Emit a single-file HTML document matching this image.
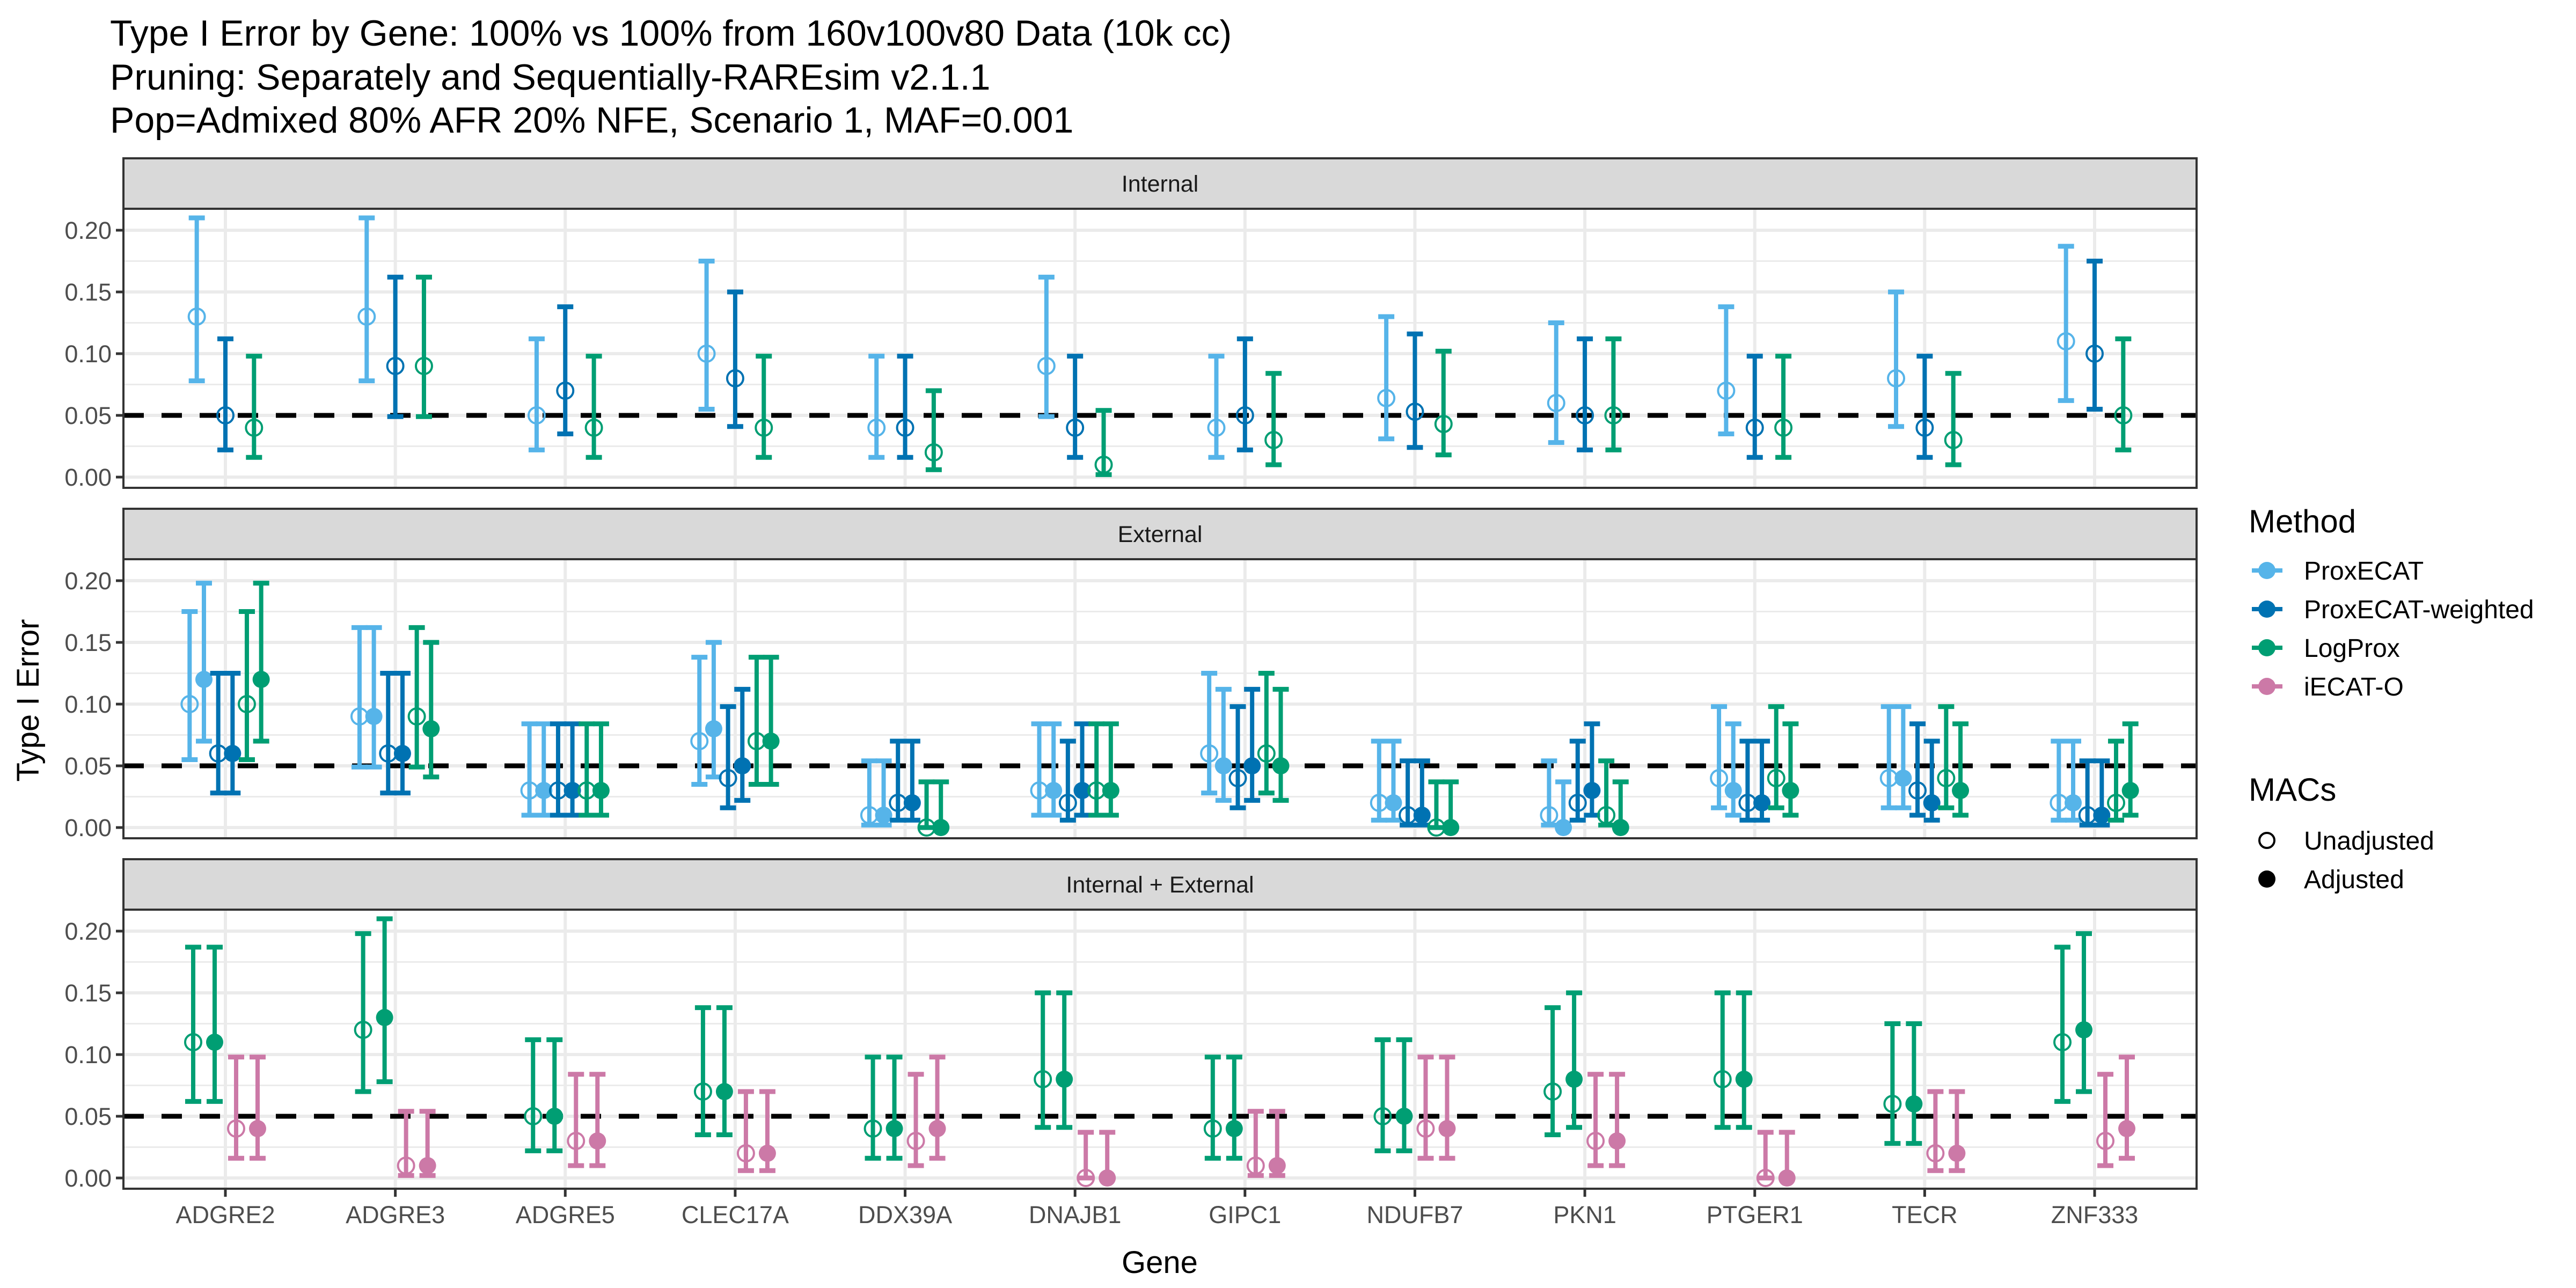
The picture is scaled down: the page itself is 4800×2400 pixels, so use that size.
<!DOCTYPE html>
<html><head><meta charset="utf-8">
<style>
html,body{margin:0;padding:0;background:#fff;}
svg{display:block;font-family:"Liberation Sans",Arial,sans-serif;}
</style></head>
<body>
<svg id="chart" xmlns="http://www.w3.org/2000/svg" width="4800" height="2400" viewBox="0 0 4800 2400">
<rect x="0" y="0" width="4800" height="2400" fill="#fff"/>
<g font-size="68" fill="#000">
<text x="205" y="85">Type I Error by Gene: 100% vs 100% from 160v100v80 Data (10k cc)</text>
<text x="205" y="167">Pruning: Separately and Sequentially-RAREsim v2.1.1</text>
<text x="205" y="247">Pop=Admixed 80% AFR 20% NFE, Scenario 1, MAF=0.001</text>
</g>
<g id="panels"></g>
<text x="2161" y="2372" font-size="58" text-anchor="middle">Gene</text>
<text x="72" y="1305" font-size="58" text-anchor="middle" transform="rotate(-90 72 1305)">Type I Error</text>
<g id="legend"></g>
</svg>
<script>
const genes = ["ADGRE2","ADGRE3","ADGRE5","CLEC17A","DDX39A","DNAJB1","GIPC1","NDUFB7","PKN1","PTGER1","TECR","ZNF333"];
const yTicks = [0,0.05,0.10,0.15,0.20];
const yTickLabels = ["0.00","0.05","0.10","0.15","0.20"];
const panelTitles = ["Internal","External","Internal + External"];
const methodNames = ["ProxECAT","ProxECAT-weighted","LogProx","iECAT-O"];
const macNames = ["Unadjusted","Adjusted"];
const refLine = 0.05;

// Panel 1: Internal
const intPEU = [.13,.13,.05,.10,.04,.09,.04,.064,.06,.07,.08,.11];
const intPEUlo = [.078,.078,.022,.055,.016,.049,.016,.031,.028,.035,.041,.062];
const intPEUhi = [.21,.21,.112,.175,.098,.162,.098,.13,.125,.138,.15,.187];
const intPWU = [.05,.09,.07,.08,.04,.04,.05,.053,.05,.04,.04,.10];
const intPWUlo = [.022,.049,.035,.041,.016,.016,.022,.024,.022,.016,.016,.055];
const intPWUhi = [.112,.162,.138,.15,.098,.098,.112,.116,.112,.098,.098,.175];
const intLPU = [.04,.09,.04,.04,.02,.01,.03,.043,.05,.04,.03,.05];
const intLPUlo = [.016,.049,.016,.016,.006,.002,.01,.018,.022,.016,.01,.022];
const intLPUhi = [.098,.162,.098,.098,.07,.054,.084,.102,.112,.098,.084,.112];

// Panel 2: External
const extPEU = [.10,.09,.03,.07,.01,.03,.06,.02,.01,.04,.04,.02];
const extPEUlo = [.055,.049,.01,.035,.002,.01,.028,.006,.002,.016,.016,.006];
const extPEUhi = [.175,.162,.084,.138,.054,.084,.125,.07,.054,.098,.098,.07];
const extPEA = [.12,.09,.03,.08,.01,.03,.05,.02,0,.03,.04,.02];
const extPEAlo = [.07,.049,.01,.041,.002,.01,.022,.006,0,.01,.016,.006];
const extPEAhi = [.198,.162,.084,.15,.054,.084,.112,.07,.037,.084,.098,.07];
const extPWU = [.06,.06,.03,.04,.02,.02,.04,.01,.02,.02,.03,.01];
const extPWUlo = [.028,.028,.01,.016,.006,.006,.016,.002,.006,.006,.01,.002];
const extPWUhi = [.125,.125,.084,.098,.07,.07,.098,.054,.07,.07,.084,.054];
const extPWA = [.06,.06,.03,.05,.02,.03,.05,.01,.03,.02,.02,.01];
const extPWAlo = [.028,.028,.01,.022,.006,.01,.022,.002,.01,.006,.006,.002];
const extPWAhi = [.125,.125,.084,.112,.07,.084,.112,.054,.084,.07,.07,.054];
const extLPU = [.10,.09,.03,.07,0,.03,.06,0,.01,.04,.04,.02];
const extLPUlo = [.055,.049,.01,.035,0,.01,.028,0,.002,.016,.016,.006];
const extLPUhi = [.175,.162,.084,.138,.037,.084,.125,.037,.054,.098,.098,.07];
const extLPA = [.12,.08,.03,.07,0,.03,.05,0,0,.03,.03,.03];
const extLPAlo = [.07,.041,.01,.035,0,.01,.022,0,0,.01,.01,.01];
const extLPAhi = [.198,.15,.084,.138,.037,.084,.112,.037,.037,.084,.084,.084];

// Panel 3: Internal + External
const bothLPU = [.11,.12,.05,.07,.04,.08,.04,.05,.07,.08,.06,.11];
const bothLPUlo = [.062,.07,.022,.035,.016,.041,.016,.022,.035,.041,.028,.062];
const bothLPUhi = [.187,.198,.112,.138,.098,.15,.098,.112,.138,.15,.125,.187];
const bothLPA = [.11,.13,.05,.07,.04,.08,.04,.05,.08,.08,.06,.12];
const bothLPAlo = [.062,.078,.022,.035,.016,.041,.016,.022,.041,.041,.028,.07];
const bothLPAhi = [.187,.21,.112,.138,.098,.15,.098,.112,.15,.15,.125,.198];
const bothIEU = [.04,.01,.03,.02,.03,0,.01,.04,.03,0,.02,.03];
const bothIEUlo = [.016,.002,.01,.006,.01,0,.002,.016,.01,0,.006,.01];
const bothIEUhi = [.098,.054,.084,.07,.084,.037,.054,.098,.084,.037,.07,.084];
const bothIEA = [.04,.01,.03,.02,.04,0,.01,.04,.03,0,.02,.04];
const bothIEAlo = [.016,.002,.01,.006,.016,0,.002,.016,.01,0,.006,.016];
const bothIEAhi = [.098,.054,.084,.07,.098,.037,.054,.098,.084,.037,.07,.098];

const colors = ["#56B4E9","#0072B2","#009E73","#CC79A7"];
const NS = "http://www.w3.org/2000/svg";
function el(tag, attrs, parent){const e=document.createElementNS(NS,tag);for(const k in attrs)e.setAttribute(k,attrs[k]);parent.appendChild(e);return e;}

const panelsSeries = [
 [[0,0,intPEU,intPEUlo,intPEUhi],[1,0,intPWU,intPWUlo,intPWUhi],[2,0,intLPU,intLPUlo,intLPUhi]],
 [[0,0,extPEU,extPEUlo,extPEUhi],[0,1,extPEA,extPEAlo,extPEAhi],[1,0,extPWU,extPWUlo,extPWUhi],[1,1,extPWA,extPWAlo,extPWAhi],[2,0,extLPU,extLPUlo,extLPUhi],[2,1,extLPA,extLPAlo,extLPAhi]],
 [[2,0,bothLPU,bothLPUlo,bothLPUhi],[2,1,bothLPA,bothLPAlo,bothLPAhi],[3,0,bothIEU,bothIEUlo,bothIEUhi],[3,1,bothIEA,bothIEAlo,bothIEAhi]]
];

const PL=230, PR=4093, PW=PR-PL;
const unit = PW/(genes.length-1+1.2);
function xScale(i){return PL+unit*(0.6+i);}
const stripH=94, plotH=520, pitch=653, top0=295;
const pxPer = 115/0.05;
const dodgeW = 160;

const root=document.getElementById('panels');
panelTitles.forEach((title,p)=>{
  const sTop=top0+p*pitch, pTop=sTop+stripH, pBot=pTop+plotH;
  const y0=pBot-20;
  const yS=v=>y0-v*pxPer;
  const g=el('g',{},root);
  
  
  const strip=el('rect',{x:PL,y:sTop,width:PW,height:stripH,fill:'#D9D9D9',stroke:'#333','stroke-width':4},g);
  
  
  const st=el('text',{x:PL+PW/2,y:sTop+stripH/2+15,'font-size':43,'text-anchor':'middle',fill:'#1a1a1a'},g);
  st.textContent=title;
  
  
  el('rect',{x:PL,y:pTop,width:PW,height:plotH,fill:'#fff'},g);
  for(let k=0;k<yTicks.length-1;k++){const v=(yTicks[k]+yTicks[k+1])/2;el('line',{x1:PL,x2:PR,y1:yS(v),y2:yS(v),stroke:'#EBEBEB','stroke-width':3},g);}
  yTicks.forEach((v,k)=>{
    el('line',{x1:PL,x2:PR,y1:yS(v),y2:yS(v),stroke:'#EBEBEB','stroke-width':6},g);
    el('line',{x1:PL-14,x2:PL,y1:yS(v),y2:yS(v),stroke:'#333','stroke-width':5},g);
    const t=el('text',{x:PL-22,y:yS(v)+16,'font-size':45,'text-anchor':'end',fill:'#4D4D4D'},g);
    t.textContent=yTickLabels[k];
    
    
  });
  genes.forEach((gn,i)=>{el('line',{x1:xScale(i),x2:xScale(i),y1:pTop,y2:pBot,stroke:'#EBEBEB','stroke-width':6},g);});
  const ref=el('line',{x1:PL,x2:PR,y1:yS(refLine),y2:yS(refLine),stroke:'#000','stroke-width':9,'stroke-dasharray':'38 33'},g);
  
  
  const series=panelsSeries[p], n=series.length, slot=dodgeW/n;
  series.forEach((s,si)=>{
    const [m,mac,vals,lo,hi]=s;
    const off=-dodgeW/2+slot*(si+0.5);
    const sg=el('g',{},g);
    
    
    vals.forEach((v,i)=>{
      const x=xScale(i)+off, c=colors[m];
      el('line',{x1:x,x2:x,y1:yS(lo[i]),y2:yS(hi[i]),stroke:c,'stroke-width':8},sg);
      el('line',{x1:x-15,x2:x+15,y1:yS(lo[i]),y2:yS(lo[i]),stroke:c,'stroke-width':9},sg);
      el('line',{x1:x-15,x2:x+15,y1:yS(hi[i]),y2:yS(hi[i]),stroke:c,'stroke-width':9},sg);
      const pt=el('circle',{cx:x,cy:yS(v),r:mac?16:15,fill:mac?c:'none',stroke:c,'stroke-width':mac?0:4},sg);
      
      
    });
  });
  el('rect',{x:PL,y:pTop,width:PW,height:plotH,fill:'none',stroke:'#333','stroke-width':4},g);
  if(p===panelTitles.length-1){
    genes.forEach((gn,i)=>{
      el('line',{x1:xScale(i),x2:xScale(i),y1:pBot,y2:pBot+15,stroke:'#333','stroke-width':5},g);
      const t=el('text',{x:xScale(i),y:pBot+64,'font-size':45,'text-anchor':'middle',fill:'#4D4D4D'},g);
      t.textContent=gn;
      
      
    });
  }
});

const lg=document.getElementById('legend');
const lt=el('text',{x:4190,y:992,'font-size':60},lg);lt.textContent='Method';


methodNames.forEach((nm,k)=>{
  const y=1063+k*72;
  const e=el('g',{},lg);
  
  
  el('line',{x1:4196,x2:4253,y1:y,y2:y,stroke:colors[k],'stroke-width':8},e);
  el('circle',{cx:4224,cy:y,r:16,fill:colors[k]},e);
  const t=el('text',{x:4293,y:y+17,'font-size':48},e);t.textContent=nm;
});
const mt=el('text',{x:4190,y:1492,'font-size':60},lg);mt.textContent='MACs';


macNames.forEach((nm,k)=>{
  const y=1566+k*72;
  const e=el('g',{},lg);
  
  
  el('circle',{cx:4224,cy:y,r:k?16:14,fill:k?'#000':'#fff',stroke:'#000','stroke-width':k?0:4},e);
  const t=el('text',{x:4293,y:y+17,'font-size':48},e);t.textContent=nm;
});
</script>
</body></html>
